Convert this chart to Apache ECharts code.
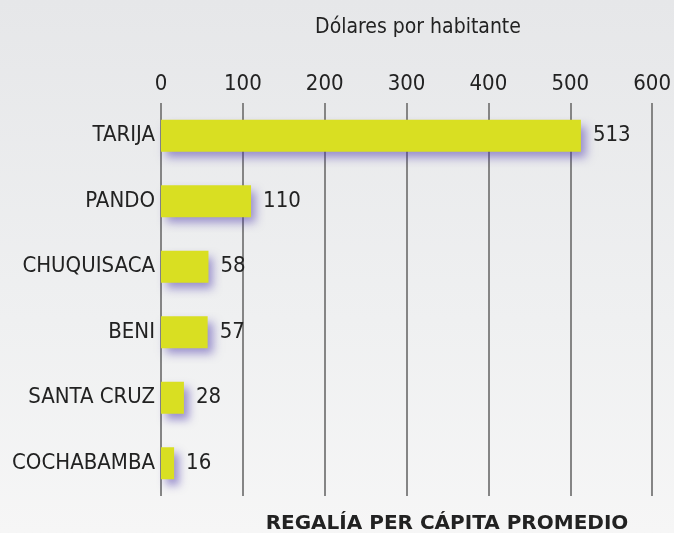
<!DOCTYPE html>
<html>
<head>
<meta charset="utf-8">
<script src="https://cdn.jsdelivr.net/npm/echarts@6/dist/echarts.min.js"></script>
<style>
  html, body { margin: 0; padding: 0; }
  #chart {
    width: 674px;
    height: 533px;
    background: linear-gradient(to bottom, #e6e7e9 0%, #eff0f1 60%, #f6f6f6 100%);
  }
</style>
</head>
<body>
<div id="chart"></div>
<script>
  const departamentos = ['TARIJA', 'PANDO', 'CHUQUISACA', 'BENI', 'SANTA CRUZ', 'COCHABAMBA']
  const regalia = [513, 110, 58, 57, 28, 16]
  const ticks = [0, 100, 200, 300, 400, 500, 600]

  const narrow = '"DejaVu Sans Condensed", "Liberation Sans Narrow", sans-serif'

  const myChart = echarts.init(document.getElementById('chart'))
  const option = {
    backgroundColor: 'transparent',
    title: [{
        text: 'Dólares por habitante',
        left: 413,
        top: 12,
        textAlign: 'center',
        textStyle: {
          fontFamily: narrow,
          fontSize: 21,
          fontWeight: 'normal',
          color: '#222'
        }
      },
      {
        text: 'REGALÍA PER CÁPITA PROMEDIO',
        left: 442,
        top: 509,
        textAlign: 'center',
        textStyle: {
          fontFamily: '"DejaVu Sans", sans-serif',
          fontSize: 20,
          fontWeight: 'bold',
          color: '#222'
        }
      }
    ],
    grid: {
      left: 161,
      right: 20,
      top: 103,
      bottom: 37,
      containLabel: false
    },
    xAxis: {
      type: 'value',
      position: 'top',
      min: ticks[0],
      max: ticks[ticks.length - 1],
      interval: 100,
      axisLine: { show: false },
      axisTick: { show: false },
      axisLabel: {
        margin: 8,
        fontFamily: narrow,
        fontSize: 22,
        color: '#222'
      },
      splitLine: {
        show: true,
        lineStyle: {
          color: '#858585',
          width: 2
        }
      }
    },
    yAxis: {
      type: 'category',
      inverse: true,
      data: departamentos,
      axisLine: { show: false },
      axisTick: { show: false },
      splitLine: { show: false },
      axisLabel: {
        margin: 6,
        fontFamily: narrow,
        fontSize: 22,
        color: '#222'
      }
    },
    series: [{
      name: 'Regalía',
      type: 'bar',
      data: regalia,
      barWidth: 32,
      itemStyle: {
        color: '#d9df22',
        shadowColor: 'rgba(70, 50, 170, 0.5)',
        shadowBlur: 9,
        shadowOffsetX: 5,
        shadowOffsetY: 6
      },
      label: {
        show: true,
        position: 'right',
        distance: 12,
        fontFamily: narrow,
        fontSize: 22,
        color: '#222'
      },
      z: 3
    }]
  }
  myChart.setOption(option)
</script>
</body>
</html>
